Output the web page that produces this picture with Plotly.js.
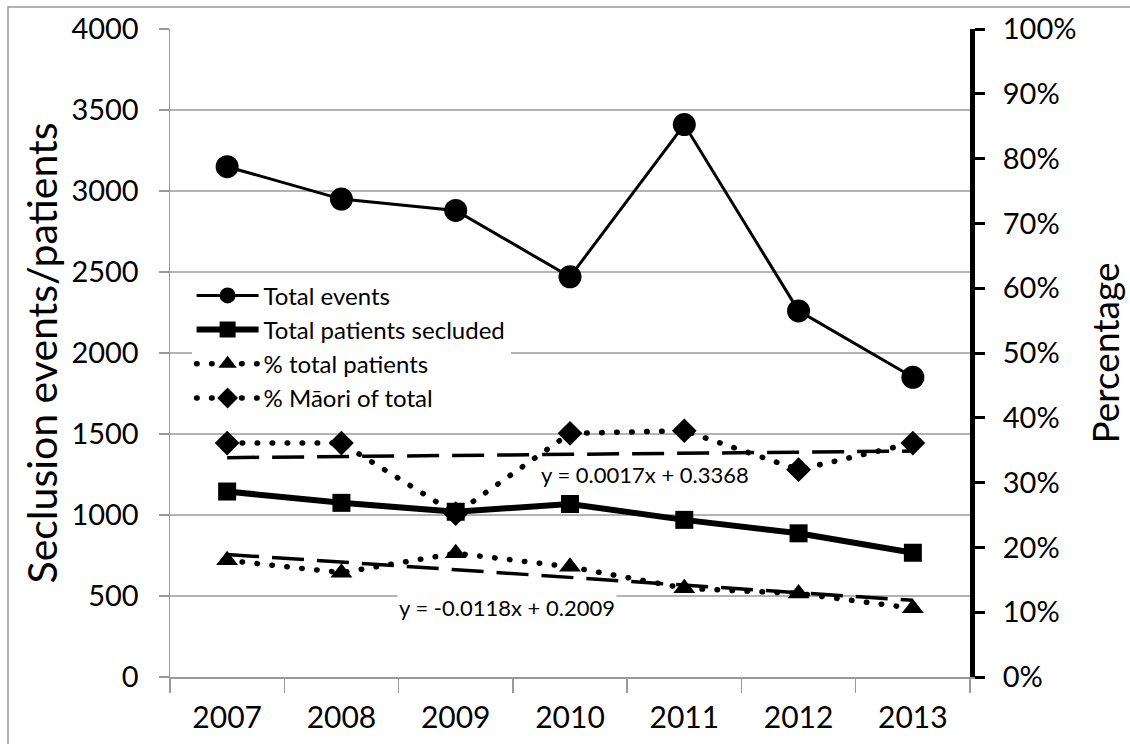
<!DOCTYPE html>
<html><head><meta charset="utf-8">
<script src="https://cdn.plot.ly/plotly-3.0.1.min.js"></script>
<style>
html,body{margin:0;padding:0;background:#fff;}
#chart{width:1130px;height:744px;}
</style></head><body><div id="chart"></div>
<script>
const years = ['2007','2008','2009','2010','2011','2012','2013'];
const totalEvents = [3150, 2950, 2880, 2470, 3410, 2260, 1850];
const totalPatients = [1145, 1075, 1020, 1068, 970, 887, 767];
const pctTotalPatients = [0.180, 0.161, 0.191, 0.170, 0.137, 0.129, 0.106];
const pctMaori = [0.361, 0.361, 0.252, 0.376, 0.380, 0.320, 0.361];
const maoriTrendSlope = 0.0017, maoriTrendIntercept = 0.3368;
const totalTrendSlope = -0.0118, totalTrendIntercept = 0.2009;

const FONT = 'Lato, "Open Sans", sans-serif';
const trend = (m, b) => years.map((_, i) => b + m * (i + 1));
const eq = (m, b) => 'y = ' + m.toFixed(4) + 'x + ' + b.toFixed(4);
const DOT = '0.5px,14.5px';

const traces = [
  {x: years, y: totalEvents, name: 'Total events', type: 'scatter', mode: 'lines+markers',
   line: {color: '#000', width: 3}, marker: {symbol: 'circle', size: 23, color: '#000'}, yaxis: 'y'},
  {x: years, y: totalPatients, name: 'Total patients secluded', type: 'scatter', mode: 'lines+markers',
   line: {color: '#000', width: 6}, marker: {symbol: 'square', size: 18, color: '#000'}, yaxis: 'y'},
  {x: years, y: trend(totalTrendSlope, totalTrendIntercept), type: 'scatter', mode: 'lines', showlegend: false,
   line: {color: '#000', width: 3.5, dash: '32px,13px'}, yaxis: 'y2', hoverinfo: 'skip'},
  {x: years, y: trend(maoriTrendSlope, maoriTrendIntercept), type: 'scatter', mode: 'lines', showlegend: false,
   line: {color: '#000', width: 3.5, dash: '32px,13px'}, yaxis: 'y2', hoverinfo: 'skip'},
  {x: years, y: pctTotalPatients, name: '% total patients', type: 'scatter', mode: 'lines+markers',
   line: {color: '#000', width: 5.5, dash: DOT}, marker: {symbol: 'triangle-up', size: 19, color: '#000'}, yaxis: 'y2'},
  {x: years, y: pctMaori, name: '% Māori of total', type: 'scatter', mode: 'lines+markers',
   line: {color: '#000', width: 5.5, dash: DOT}, marker: {symbol: 'diamond', size: 19, color: '#000'}, yaxis: 'y2'}
];

const layout = {
  width: 1130, height: 744,
  margin: {l: 170, r: 160, t: 29, b: 67},
  paper_bgcolor: '#fff', plot_bgcolor: '#fff',
  font: {family: FONT, color: '#000'},
  showlegend: true,
  legend: {x: 0.027, y: 0.623, xanchor: 'left', yanchor: 'top', bgcolor: '#fff',
           font: {family: FONT, size: 24, color: '#000'}, itemwidth: 62, tracegroupgap: 0},
  xaxis: {type: 'category', range: [-0.5, 6.5], showline: true, linecolor: '#999', linewidth: 1.5,
          ticks: 'outside', tickson: 'boundaries', ticklen: 14, tickcolor: '#999', tickwidth: 1.5,
          showgrid: false, zeroline: false, tickfont: {family: FONT, size: 30}, ticklabelstandoff: 13},
  yaxis: {range: [0, 4000], dtick: 500, showline: true, linecolor: '#999', linewidth: 1.5,
          ticks: 'outside', ticklen: 10, tickcolor: '#999', tickwidth: 1.5,
          showgrid: true, gridcolor: '#b3b3b3', gridwidth: 1.5, zeroline: false,
          tickfont: {family: FONT, size: 29}, ticklabelstandoff: 14,
          title: {text: 'Seclusion events/patients', font: {family: FONT, size: 41}, standoff: 1}},
  yaxis2: {overlaying: 'y', side: 'right', range: [0, 1], dtick: 0.1, tickformat: '.0%',
           showline: true, linecolor: '#000', linewidth: 5, ticks: 'outside', ticklen: 10,
           tickcolor: '#000', tickwidth: 3, showgrid: false, zeroline: false,
           tickfont: {family: FONT, size: 29}, ticklabelstandoff: 12,
           title: {text: 'Percentage', font: {family: FONT, size: 37}, standoff: 19}},
  annotations: [
    {xref: 'paper', yref: 'paper', x: 0.594, y: 0.312, xanchor: 'center', yanchor: 'middle',
     text: eq(maoriTrendSlope, maoriTrendIntercept),
     showarrow: false, font: {family: FONT, size: 22, color: '#000'}},
    {xref: 'paper', yref: 'paper', x: 0.421, y: 0.108, xanchor: 'center', yanchor: 'middle',
     text: eq(totalTrendSlope, totalTrendIntercept),
     showarrow: false, bgcolor: '#fff', font: {family: FONT, size: 22, color: '#000'}}
  ],
  shapes: [
    {type: 'rect', xref: 'paper', yref: 'paper', x0: -0.2025, x1: 1.25, y0: -0.15, y1: 1.034,
     line: {color: '#999', width: 1.5}, fillcolor: 'rgba(0,0,0,0)', layer: 'below'}
  ]
};

Plotly.newPlot('chart', traces, layout, {staticPlot: true, displayModeBar: false}).then(gd => {
  gd.querySelectorAll('path.js-line').forEach(p => {
    if ((p.style.strokeDasharray || '').indexOf('0.5px') === 0) p.style.strokeLinecap = 'round';
  });
});
</script></body></html>
